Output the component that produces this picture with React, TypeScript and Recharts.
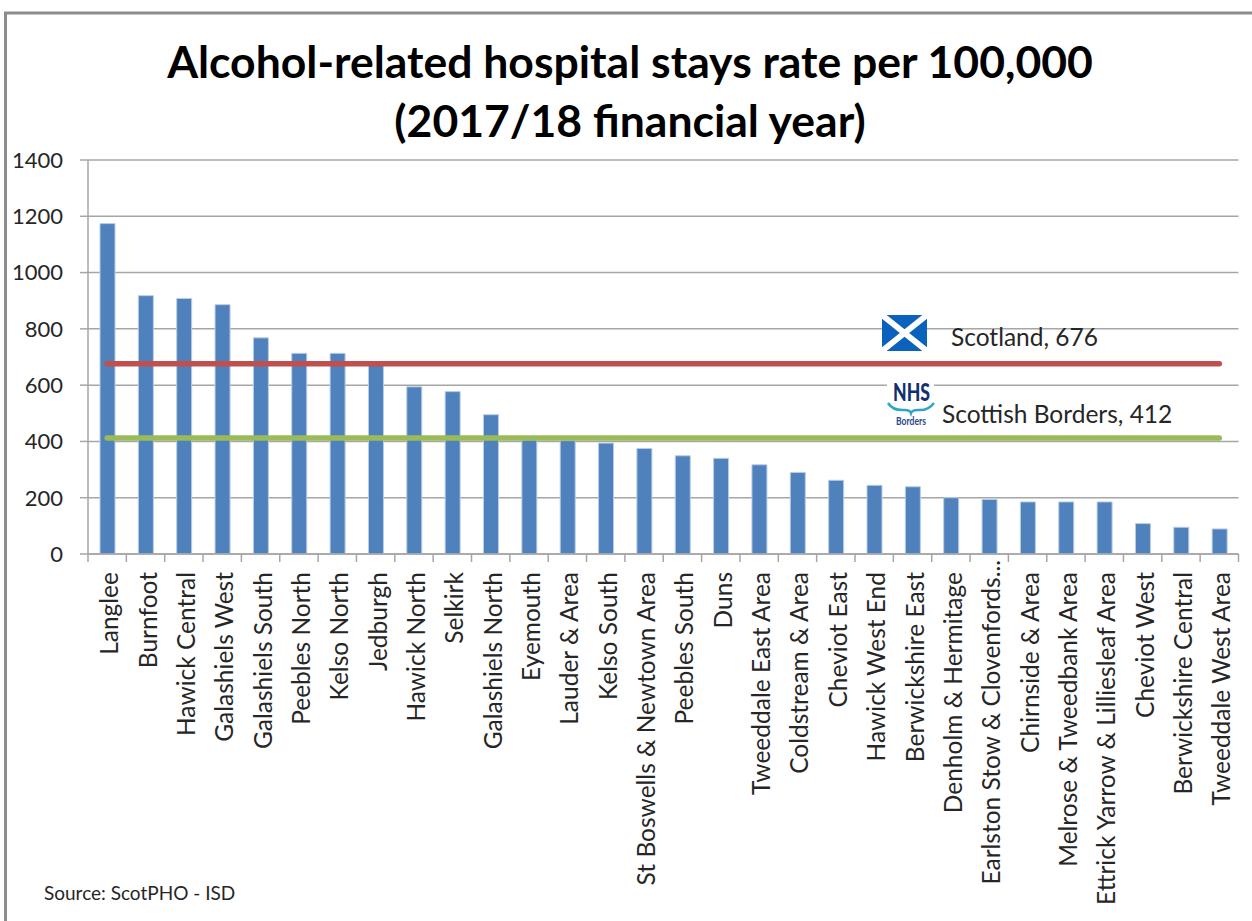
import React from "react";
import { ComposedChart, Bar, Line, XAxis, YAxis, CartesianGrid } from "recharts";

const areas = [
  "Langlee", "Burnfoot", "Hawick Central", "Galashiels West", "Galashiels South",
  "Peebles North", "Kelso North", "Jedburgh", "Hawick North", "Selkirk",
  "Galashiels North", "Eyemouth", "Lauder & Area", "Kelso South", "St Boswells & Newtown Area",
  "Peebles South", "Duns", "Tweeddale East Area", "Coldstream & Area", "Cheviot East",
  "Hawick West End", "Berwickshire East", "Denholm & Hermitage", "Earlston Stow & Clovenfords...", "Chirnside & Area",
  "Melrose & Tweedbank Area", "Ettrick Yarrow & Lilliesleaf Area", "Cheviot West", "Berwickshire Central", "Tweeddale West Area",
];
const rates = [
  1174, 918, 908, 886, 768, 713, 713, 672, 594, 577,
  495, 405, 403, 394, 375, 349, 340, 317, 290, 262,
  244, 239, 200, 194, 185, 185, 185, 108, 95, 89,
];
const scotland = [
  676, 676, 676, 676, 676, 676, 676, 676, 676, 676,
  676, 676, 676, 676, 676, 676, 676, 676, 676, 676,
  676, 676, 676, 676, 676, 676, 676, 676, 676, 676,
];
const borders = [
  412, 412, 412, 412, 412, 412, 412, 412, 412, 412,
  412, 412, 412, 412, 412, 412, 412, 412, 412, 412,
  412, 412, 412, 412, 412, 412, 412, 412, 412, 412,
];
const yTicks = [0, 200, 400, 600, 800, 1000, 1200, 1400];

const data = areas.map((area, i) => ({
  area,
  rate: rates[i],
  scotland: scotland[i],
  borders: borders[i],
}));

const FONT = "Lato, sans-serif";
const AXIS = "#a6a6a6";
const TEXT = "#262626";

// rotated area label, plus the tick marks at the band edges
function AreaTick({ x, y, index, payload }: any) {
  const step = 1150.5 / areas.length;
  // the truncated label runs up past the others, into the tick marks
  const top = String(payload.value).endsWith("...") ? y - 2 : y + 10;
  return (
    <g>
      <line x1={x - step / 2} x2={x - step / 2} y1={y - 8} y2={y} stroke={AXIS} strokeWidth={1.5} />
      {index === areas.length - 1 && (
        <line x1={x + step / 2} x2={x + step / 2} y1={y - 8} y2={y} stroke={AXIS} strokeWidth={1.5} />
      )}
      <text
        transform={`translate(${x + 11},${top}) rotate(-90)`}
        textAnchor="end"
        fontFamily={FONT}
        fontSize={24.5}
        fill={TEXT}
      >
        {payload.value}
      </text>
    </g>
  );
}

function SaltireFlag() {
  return (
    <g>
      <rect x={882} y={315} width={45} height={36} fill="#0b62bd" />
      <path d="M882 315 L927 351 M927 315 L882 351" stroke="#fff" strokeWidth={6} />
    </g>
  );
}

function BordersLogo() {
  return (
    <g>
      <rect x={887} y={383} width={47} height={44} fill="#fff" />
      <text x={911.5} y={401} textAnchor="middle" fontFamily={FONT} fontWeight={900} fontSize={24} fill="#12306f" textLength={37} lengthAdjust="spacingAndGlyphs">
        NHS
      </text>
      <path d="M888 403 Q893 411 905 410 Q910 410 911 413 Q912 410 918 410 Q928 411 934 403" fill="none" stroke="#2fa3c8" strokeWidth={2.5} />
      <text x={911} y={425} textAnchor="middle" fontFamily={FONT} fontWeight={700} fontSize={11} fill="#2b4a8c" textLength={30} lengthAdjust="spacingAndGlyphs">
        Borders
      </text>
    </g>
  );
}

export default function App() {
  return (
    <div style={{ position: "absolute", left: 0, top: 0, width: 1252, height: 921, background: "#fff" }}>
      <ComposedChart
        width={1252}
        height={921}
        data={data}
        margin={{ top: 160, right: 13.5, bottom: 0, left: 0 }}
      >
        <CartesianGrid vertical={false} stroke={AXIS} strokeWidth={1.5} />
        <XAxis
          dataKey="area"
          interval={0}
          height={367}
          tick={<AreaTick />}
          tickLine={false}
          tickSize={8}
          tickMargin={0}
          stroke={AXIS}
          strokeWidth={1.5}
        />
        <YAxis
          width={88}
          domain={[0, 1400]}
          ticks={yTicks}
          tickSize={8}
          tickMargin={17}
          stroke={AXIS}
          strokeWidth={1.5}
          tick={{ fontFamily: FONT, fontSize: 22, fill: TEXT }}
        />
        <Bar dataKey="rate" fill="#4f81bd" stroke="#b9cde5" strokeWidth={1} barSize={15} isAnimationActive={false} />
        <Line dataKey="scotland" stroke="#c0504d" strokeWidth={5.5} strokeLinecap="round" dot={false} isAnimationActive={false} />
        <Line dataKey="borders" stroke="#9bbb59" strokeWidth={5.5} strokeLinecap="round" dot={false} isAnimationActive={false} />
      </ComposedChart>

      <svg width={1252} height={921} style={{ position: "absolute", left: 0, top: 0, pointerEvents: "none" }}>
        <path d="M1252 13 H5.5 V921" fill="none" stroke="#8c8c8c" strokeWidth={3} />
        <text x={630} y={78} textAnchor="middle" fontFamily={FONT} fontWeight={700} fontSize={44.5} fill="#000">
          Alcohol-related hospital stays rate per 100,000
        </text>
        <text x={630} y={137} textAnchor="middle" fontFamily={FONT} fontWeight={700} fontSize={44.5} fill="#000">
          (2017/18 financial year)
        </text>
        <SaltireFlag />
        <text x={951} y={346} fontFamily={FONT} fontSize={24.5} fill={TEXT}>
          {`Scotland, ${scotland[0]}`}
        </text>
        <BordersLogo />
        <text x={942} y={423} fontFamily={FONT} fontSize={24.5} fill={TEXT}>
          {`Scottish Borders, ${borders[0]}`}
        </text>
        <text x={44} y={900} fontFamily={FONT} fontSize={19} fill={TEXT}>
          Source: ScotPHO - ISD
        </text>
      </svg>
    </div>
  );
}
